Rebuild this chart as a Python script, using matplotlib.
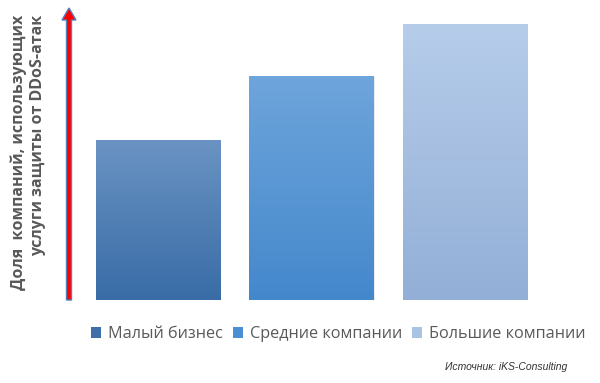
import numpy as np
import matplotlib
matplotlib.use('Agg')
import matplotlib.pyplot as plt
from matplotlib.colors import LinearSegmentedColormap
from matplotlib.patches import FancyArrow, Patch

plt.rcParams['font.family'] = ['Open Sans', 'DejaVu Sans']

# Data (relative share; no axis scale in the original)
categories = ['Малый бизнес', 'Средние компании', 'Большие компании']
values = [160, 224, 276]
top_colors = ['#6a93c3', '#6ea5db', '#b6cdea']
bottom_colors = ['#396ca6', '#4488cc', '#93afd7']
legend_colors = ['#3f6fa8', '#4a8ed3', '#a9c3e5']
ylabel = 'Доля  компаний, использующих\nуслуги защиты от DDoS-атак'
source = 'Источник: iKS-Consulting'

fig = plt.figure(figsize=(6, 3.83), dpi=100)
ax = fig.add_axes([81.25 / 600, 83 / 383, 460.5 / 600, 290 / 383])
ax.axis('off')

width = 0.81
x = np.arange(len(categories))
bars = ax.bar(x, values, width=width, color='none', edgecolor='none')

for i, b in enumerate(bars):
    # soft shadow on the right side
    ax.bar(x[i] + 0.008, values[i], width=width, bottom=-1.2,
           color='#c8c8c8', alpha=0.35, zorder=1)
    cmap = LinearSegmentedColormap.from_list('g%d' % i, [bottom_colors[i], top_colors[i]])
    grad = np.linspace(0, 1, 256).reshape(-1, 1)
    im = ax.imshow(grad, cmap=cmap, origin='lower', aspect='auto',
                   extent=[x[i] - width / 2, x[i] + width / 2, 0, values[i]], zorder=2)
    im.set_clip_path(b)
ax.set_xlim(-0.5, 2.5)
ax.set_ylim(0, 290)

# vertical red arrow acting as the y-axis
arrow = FancyArrow(69 / 600, (383 - 300) / 383, 0, (300 - 8) / 383, width=5 / 600,
                   head_width=14 / 600, head_length=12 / 383, length_includes_head=True,
                   transform=fig.transFigure, facecolor='#ff0000', edgecolor='#4f81bd',
                   linewidth=1.0)
fig.patches.append(arrow)

fig.text(28.5 / 600, 1 - 152 / 383, ylabel, rotation=90, ha='center', va='center',
         multialignment='right', fontsize=11.5, fontweight='bold', color='#595959',
         linespacing=1.25)

handles = [Patch(facecolor=c, edgecolor='none') for c in legend_colors]
fig.legend(handles, categories, loc='center', bbox_to_anchor=(338 / 600, 1 - 334 / 383),
           ncol=3, frameon=False, fontsize=11.7, labelcolor='#595959',
           handlelength=0.65, handleheight=0.65, handletextpad=0.4, columnspacing=0.6)

fig.text(567 / 600, 1 - 367 / 383, source, ha='right', va='center', fontsize=7.5,
         style='italic', color='#333333',
         family=['Liberation Sans Narrow', 'Liberation Sans', 'DejaVu Sans'])

fig.savefig('out.png', dpi=100)
